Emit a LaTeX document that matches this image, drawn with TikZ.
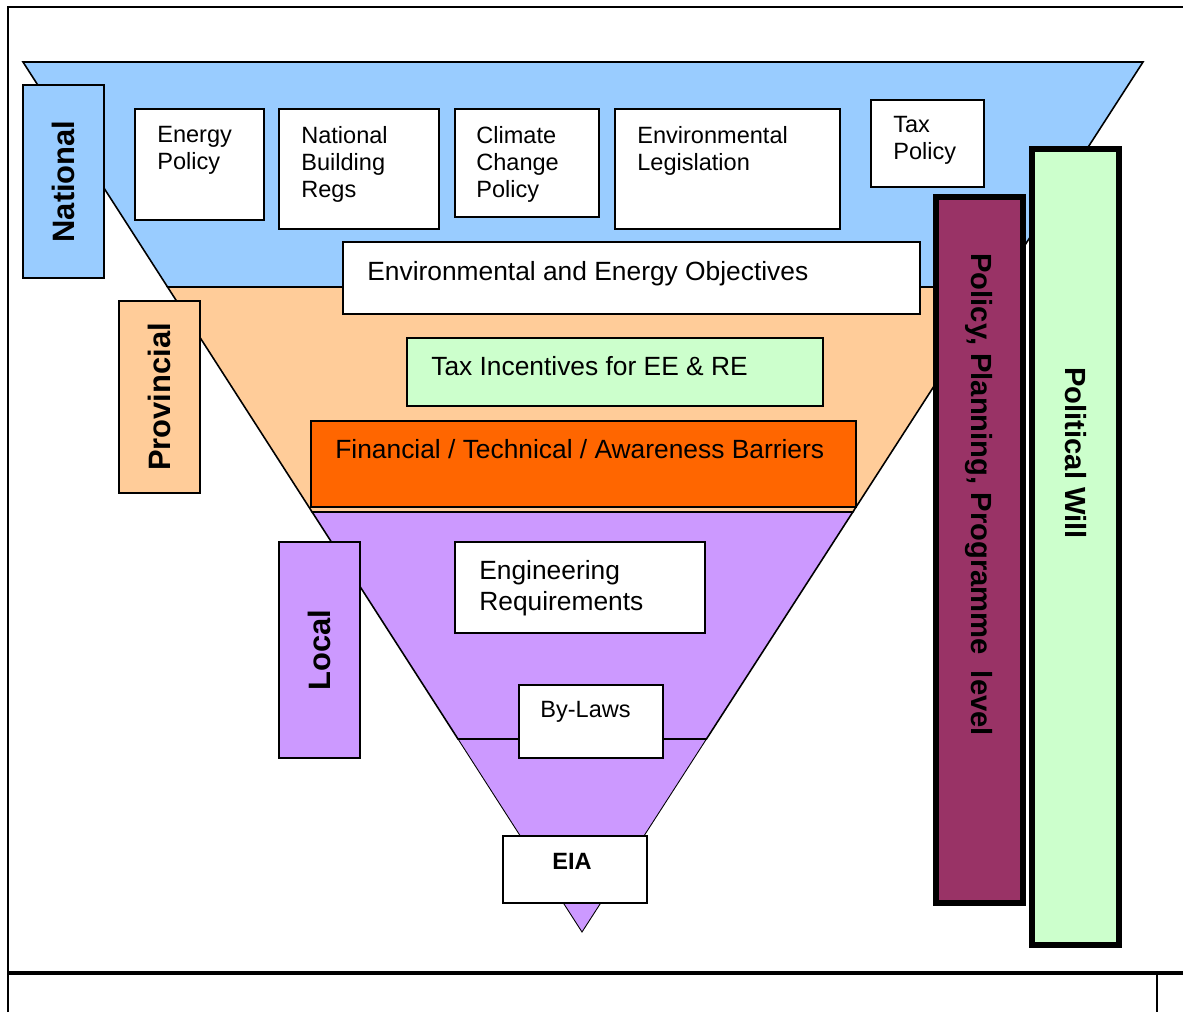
\documentclass[tikz,border=0pt]{standalone}
\usepackage{fontspec}
\setmainfont{Liberation Sans}
\usetikzlibrary{calc}

\definecolor{natblue}{HTML}{99CCFF}
\definecolor{provpeach}{HTML}{FFCC99}
\definecolor{locpurple}{HTML}{CC99FF}
\definecolor{palegreen}{HTML}{CCFFCC}
\definecolor{barrierorange}{HTML}{FF6600}
\definecolor{policyplum}{HTML}{993366}

\tikzset{
  band/.style={draw, line width=0.9pt},
  panel/.style={draw, line width=0.9pt, fill=white},
  small/.style={anchor=north west, inner sep=0pt, align=left, font=\fontsize{13.4}{15.3}\selectfont},
  large/.style={anchor=north west, inner sep=0pt, align=left, font=\fontsize{15}{17.4}\selectfont},
  level/.style={draw, line width=0.9pt, rotate=90, inner sep=0pt, font=\fontsize{17.6}{20}\selectfont\bfseries},
  pillar/.style={draw, line width=3.4pt},
  pillartext/.style={rotate=-90, anchor=west, inner sep=0pt, font=\fontsize{16.6}{20}\selectfont\bfseries}
}

\begin{document}
\begin{tikzpicture}[x=0.02cm, y=-0.02cm]
      \useasboundingbox (0,0) rectangle (1183,1012);
      % frame
      \draw[line width=1.2pt] (8,1012) -- (8,7) -- (1183,7);
      \draw[line width=1.8pt] (8,973) -- (1183,973);
      \draw[line width=1.2pt] (1157,973) -- (1157,1012);

      % funnel
      \coordinate (tl) at (23,62);
      \coordinate (tr) at (1143,62);
      \coordinate (apex) at (582,932);
      \draw[band, fill=natblue] (tl) -- (tr) -- ($(tr)!0.2586!(apex)$) -- ($(tl)!0.2586!(apex)$) -- cycle;
      \draw[band, fill=provpeach] ($(tl)!0.2586!(apex)$) -- ($(tr)!0.2586!(apex)$)
            -- ($(tr)!0.5172!(apex)$) -- ($(tl)!0.5172!(apex)$) -- cycle;
      \draw[band, fill=locpurple] ($(tl)!0.5172!(apex)$) -- ($(tr)!0.5172!(apex)$)
            -- ($(tr)!0.7782!(apex)$) -- ($(tl)!0.7782!(apex)$) -- cycle;
      \draw[band, line width=0.5pt, fill=locpurple] ($(tl)!0.7782!(apex)$) -- ($(tr)!0.7782!(apex)$) -- (apex) -- cycle;
      \draw[band] ($(tl)!0.7782!(apex)$) -- ($(tr)!0.7782!(apex)$);

      % levels
      \node[level, fill=natblue, minimum width=3.86cm, minimum height=1.62cm] (national) at (63.5,181.5) {National};
      \node[level, fill=provpeach, minimum width=3.84cm, minimum height=1.62cm] (provincial) at (159.5,397) {Provincial};
      \node[level, fill=locpurple, minimum width=4.32cm, minimum height=1.62cm] (local) at (319.5,650) {Local};

      % national panels
      \draw[panel] (135,109) rectangle (264,220);
      \node[small] (energy) at (157,126) {Energy\\Policy};
      \draw[panel] (279,109) rectangle (439,229);
      \node[small] (buildregs) at (301,126) {National\\Building\\Regs};
      \draw[panel] (455,109) rectangle (599,217);
      \node[small] (climate) at (476,126) {Climate\\Change\\Policy};
      \draw[panel] (615,109) rectangle (840,229);
      \node[small] (envlaw) at (637,126) {Environmental\\Legislation};
      \draw[panel] (871,100) rectangle (984,187);
      \node[small] (taxpol) at (893,116) {Tax\\Policy};
      \draw[panel] (343,242) rectangle (920,314);
      \node[large] (objectives) at (367,261) {Environmental and Energy Objectives};

      % provincial panels
      \draw[panel, fill=palegreen] (407,338) rectangle (823,406);
      \node[large] (incentives) at (431,356) {Tax Incentives for EE \& RE};
      \draw[panel, fill=barrierorange] (311,421) rectangle (856,507);
      \node[large] (barriers) at (335,439) {Financial / Technical / Awareness Barriers};

      % local panels
      \draw[panel] (455,542) rectangle (705,633);
      \node[large] (engineering) at (479,560) {Engineering\\Requirements};
      \draw[panel] (519,685) rectangle (663,758);
      \node[small] (bylaws) at (540,701) {By-Laws};
      \draw[panel] (503,836) rectangle (647,903);
      \node[small, font=\fontsize{13.4}{15.3}\selectfont\bfseries] (eia) at (552,853) {EIA};

      % side pillars
      \draw[pillar, fill=policyplum] (936,197) rectangle (1023,903);
      \node[pillartext] (policy) at (979,253) {Policy, Planning, Programme\ \ level};
      \draw[pillar, fill=palegreen] (1032,149) rectangle (1119,945);
      \node[pillartext] (will) at (1076,367) {Political Will};
\end{tikzpicture}
\end{document}
